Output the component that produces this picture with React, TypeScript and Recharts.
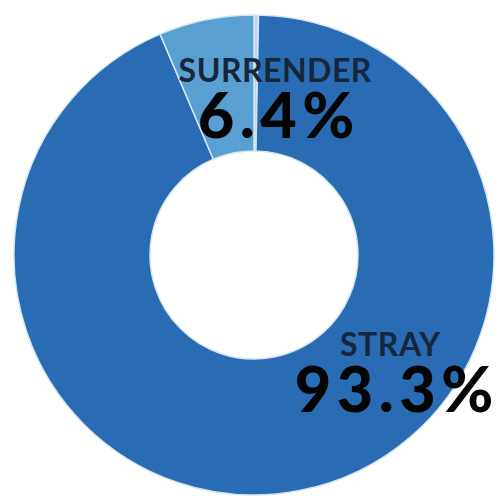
import { PieChart, Pie, Cell } from 'recharts';

const categories = ['Other', 'Stray', 'Surrender'];
const shares = [0.3, 93.3, 6.4];
const labelText = ['', '93.3%', '6.4%'];

const sliceColors = ['#b9d8ef', '#2a6cb3', '#5a9fd2'];

// label anchors relative to centre, in pixels (name baseline / value baseline)
const labelPos: Record<string, { nx: number; ny: number; vx: number; vy: number }> = {
  Stray: { nx: 136, ny: 101, vx: 140, vy: 157 },
  Surrender: { nx: 21, ny: -173, vx: 22, vy: -117 },
};

const data = categories.map((name, i) => ({ name, value: shares[i], text: labelText[i] }));

const NAME_SPACING = 0.5;
const VALUE_SPACING = 5.5;

function SliceLabel(props: any) {
  const { cx, cy, name, payload } = props;
  const p = labelPos[name];
  if (!p) return null;
  return (
    <g>
      <text
        x={cx + p.nx + NAME_SPACING / 2}
        y={cy + p.ny}
        textAnchor="middle"
        fill="#15263d"
        fontFamily="Lato, sans-serif"
        fontWeight={700}
        fontSize={32}
        letterSpacing={NAME_SPACING}
      >
        {name.toUpperCase()}
      </text>
      <text
        x={cx + p.vx + VALUE_SPACING / 2}
        y={cy + p.vy}
        textAnchor="middle"
        fill="#050505"
        fontFamily="Lato, sans-serif"
        fontWeight={900}
        fontSize={63}
        letterSpacing={VALUE_SPACING}
      >
        {payload.text}
      </text>
    </g>
  );
}

export default function App() {
  return (
    <div style={{ position: 'absolute', left: 0, top: 0, background: '#fff' }}>
      <PieChart width={499} height={496} margin={{ top: 0, right: 0, bottom: 0, left: 0 }}>
        <Pie
          data={data}
          dataKey="value"
          nameKey="name"
          cx={254}
          cy={255}
          innerRadius={104}
          outerRadius={240}
          startAngle={90}
          endAngle={-270}
          stroke="#d4e6f4"
          strokeWidth={1.5}
          label={SliceLabel}
          labelLine={false}
          isAnimationActive={false}
        >
          {data.map((d, i) => (
            <Cell key={d.name} fill={sliceColors[i]} />
          ))}
        </Pie>
      </PieChart>
    </div>
  );
}
